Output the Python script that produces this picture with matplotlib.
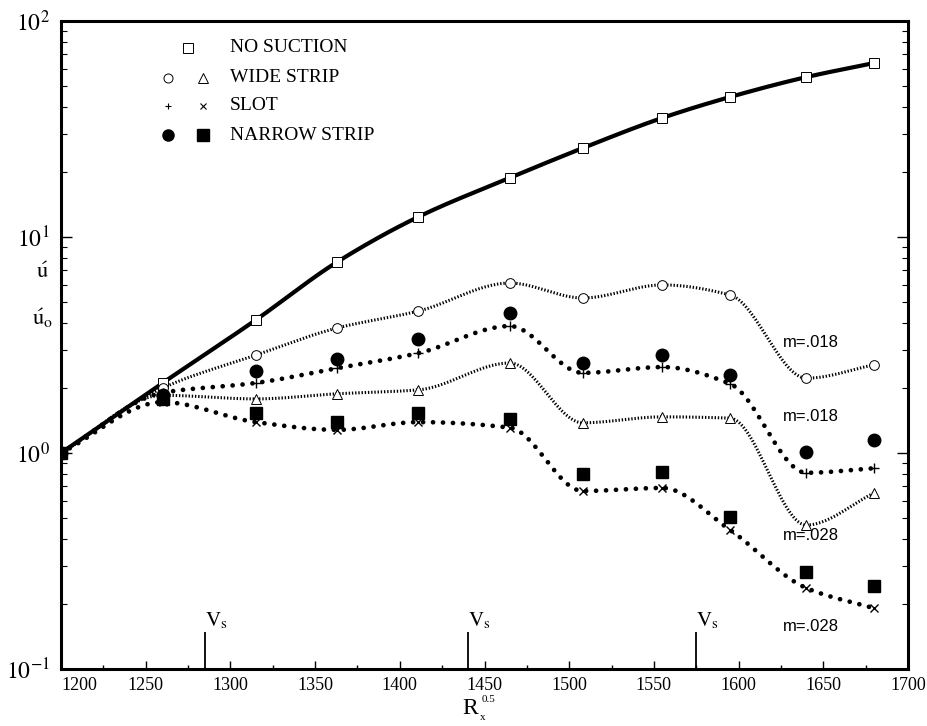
import numpy as np
import matplotlib
matplotlib.use("Agg")
import matplotlib.pyplot as plt
from matplotlib.ticker import FixedLocator, LogLocator, NullFormatter

plt.rcParams["mathtext.fontset"] = "stix"

# Streamwise station (R_x^0.5)
rx = [1200, 1260, 1315, 1363, 1411, 1465, 1508, 1555, 1595, 1640, 1680]

# Disturbance amplitude ratio u'/u'_o
no_suction = [1.0, 2.11, 4.13, 7.66, 12.4, 18.8, 25.8, 35.6, 44.5, 55.0, 63.9]
wide_018 = [1.0, 2.0, 2.84, 3.79, 4.54, 6.12, 5.22, 6.0, 5.39, 2.22, 2.56]
wide_028 = [1.0, 1.85, 1.78, 1.88, 1.96, 2.61, 1.38, 1.47, 1.45, 0.464, 0.653]
slot_018 = [1.0, 1.9, 2.11, 2.47, 2.9, 3.87, 2.35, 2.5, 2.09, 0.81, 0.85]
slot_028 = [1.0, 1.72, 1.39, 1.28, 1.39, 1.31, 0.667, 0.689, 0.44, 0.237, 0.191]
narrow_018 = [1.0, 1.85, 2.40, 2.72, 3.37, 4.45, 2.61, 2.84, 2.30, 1.01, 1.15]
narrow_028 = [1.0, 1.78, 1.53, 1.39, 1.53, 1.44, 0.80, 0.817, 0.506, 0.281, 0.242]

# Suction positions
vs_positions = [1285, 1440, 1575]

x_ticks = [1200, 1250, 1300, 1350, 1400, 1450, 1500, 1550, 1600, 1650, 1700]
legend_labels = ["NO SUCTION", "WIDE STRIP", "SLOT", "NARROW STRIP"]
m_labels = ["m=.018", "m=.018", "m=.028", "m=.028"]


def smooth(x, y, n=30):
    """Shape-preserving cubic curve through the points, in log space."""
    x = np.asarray(x, float)
    ly = np.log10(np.asarray(y, float))
    h = np.diff(x)
    d = np.diff(ly) / h
    m = np.zeros_like(ly)
    for i in range(1, len(x) - 1):
        if d[i - 1] * d[i] > 0:
            w1 = 2 * h[i] + h[i - 1]
            w2 = h[i] + 2 * h[i - 1]
            m[i] = (w1 + w2) / (w1 / d[i - 1] + w2 / d[i])
    m[0] = d[0]
    m[-1] = d[-1]
    xs, ys = [], []
    for i in range(len(x) - 1):
        t = np.linspace(0, 1, n, endpoint=(i == len(x) - 2))
        h00 = 2 * t**3 - 3 * t**2 + 1
        h10 = t**3 - 2 * t**2 + t
        h01 = -2 * t**3 + 3 * t**2
        h11 = t**3 - t**2
        xs.append(x[i] + t * h[i])
        ys.append(h00 * ly[i] + h10 * h[i] * m[i] + h01 * ly[i + 1] + h11 * h[i] * m[i + 1])
    return np.concatenate(xs), 10 ** np.concatenate(ys)


fig = plt.figure(figsize=(9.28, 7.26), dpi=100)
ax = fig.add_axes([61 / 928, 1 - 669 / 726, 847 / 928, 648 / 726])
ax.set_yscale("log")
ax.set_xlim(1200, 1700)
ax.set_ylim(0.1, 100)

# Curves
sx, sy = smooth(rx, no_suction)
ax.plot(sx, sy, color="black", lw=3.0, solid_capstyle="round", zorder=3)

fine = dict(color="black", lw=2.2, dashes=(0.45, 0.6), dash_capstyle="butt", zorder=2)
for ser in (wide_018, wide_028):
    sx, sy = smooth(rx, ser)
    ax.plot(sx, sy, **fine)

coarse = dict(color="black", lw=3.4, dashes=(0.01, 2.1), dash_capstyle="round", zorder=2)
for ser in (slot_018, slot_028):
    sx, sy = smooth(rx, ser)
    ax.plot(sx, sy, **coarse)

# Markers
ax.plot(rx, no_suction, ls="none", marker="s", ms=7, mfc="white", mec="black", mew=0.7, zorder=4)
ax.plot(rx, wide_018, ls="none", marker="o", ms=7, mfc="white", mec="black", mew=0.7, zorder=4)
ax.plot(rx, wide_028, ls="none", marker="^", ms=7, mfc="white", mec="black", mew=0.7, zorder=4)
ax.plot(rx, slot_018, ls="none", marker="+", ms=7, color="black", mew=1.0, zorder=4)
ax.plot(rx, slot_028, ls="none", marker="x", ms=6, color="black", mew=1.0, zorder=4)
ax.plot(rx, narrow_018, ls="none", marker="o", ms=9, color="black", zorder=4)
ax.plot(rx, narrow_028, ls="none", marker="s", ms=9, color="black", zorder=4)

# Suction position markers
ax.vlines(vs_positions, 0.1, 0.148, color="black", lw=1.3)
for v in vs_positions:
    ax.text(v, 0.150, r"$\mathrm{V}_{\mathrm{s}}$", fontsize=15, ha="left", va="bottom",
            fontfamily="serif")

# Curve annotations
m_pos = [(1626, 3.26), (1626, 1.47), (1626, 0.413), (1626, 0.158)]
for (px, py), lab in zip(m_pos, m_labels):
    ax.text(px, py, lab, fontsize=12, fontfamily="Liberation Sans", va="center", ha="left")

# Legend drawn as plain marker rows
leg = fig.add_axes([0, 0, 1, 1], facecolor="none")
leg.set_xlim(0, 928)
leg.set_ylim(726, 0)
leg.axis("off")
rows_y = [48, 78, 106, 135]
leg.plot([188], [rows_y[0]], marker="s", ms=6.5, mfc="white", mec="black", mew=0.7)
leg.plot([168], [rows_y[1]], marker="o", ms=6.5, mfc="white", mec="black", mew=0.7)
leg.plot([203], [rows_y[1]], marker="^", ms=6.5, mfc="white", mec="black", mew=0.7)
leg.plot([168], [rows_y[2]], marker="+", ms=5, color="black", mew=0.8)
leg.plot([203], [rows_y[2]], marker="x", ms=5, color="black", mew=0.8)
leg.plot([168], [rows_y[3]], marker="o", ms=8, color="black")
leg.plot([203], [rows_y[3]], marker="s", ms=8, color="black")
for yy, lab in zip(rows_y, legend_labels):
    leg.text(230, yy, lab, fontsize=14, fontfamily="Liberation Serif", va="center", ha="left")

# x-axis title, built from separate pieces
leg.text(462, 709, "R", fontsize=17, fontfamily="Liberation Serif", ha="left", va="center")
leg.text(480, 717, "x", fontsize=8, fontfamily="Liberation Serif", ha="left", va="center")
leg.text(482, 700, "0.5", fontsize=8, fontfamily="Liberation Serif", ha="left", va="center")

# Axes styling
for sp in ax.spines.values():
    sp.set_linewidth(2.2)
ax.xaxis.set_major_locator(FixedLocator(x_ticks))
ax.xaxis.set_minor_locator(FixedLocator(np.arange(1225, 1700, 50)))
ax.set_xticklabels([str(t) for t in x_ticks], fontfamily="Liberation Serif", fontsize=13)
ax.get_xticklabels()[0].set_horizontalalignment("left")
ax.tick_params(axis="x", which="major", direction="in", length=6, width=1.0, pad=6)
ax.tick_params(axis="x", which="minor", direction="in", length=3, width=1.0)
ax.tick_params(axis="y", which="major", direction="in", length=8, width=1.0, pad=8,
               right=True)
ax.tick_params(axis="y", which="minor", direction="in", length=4, width=0.8, right=True)
ax.yaxis.set_major_locator(LogLocator(base=10, numticks=10))
ax.yaxis.set_minor_locator(LogLocator(base=10, subs=np.arange(2, 10), numticks=20))
ax.yaxis.set_minor_formatter(NullFormatter())
ax.set_yticks([0.1, 1, 10, 100])
ax.set_yticklabels([r"$10^{-1}$", r"$10^{0}$", r"$10^{1}$", r"$10^{2}$"], fontsize=17,
                   fontfamily="serif")

# y-axis title
fig.text(42 / 928, 1 - 272 / 726, r"$\acute{\mathrm{u}}$", fontsize=16, ha="center", va="center")
fig.text(42 / 928, 1 - 318 / 726, r"$\acute{\mathrm{u}}_{\mathrm{o}}$", fontsize=16,
         ha="center", va="center")

fig.savefig("out.png", dpi=100)
